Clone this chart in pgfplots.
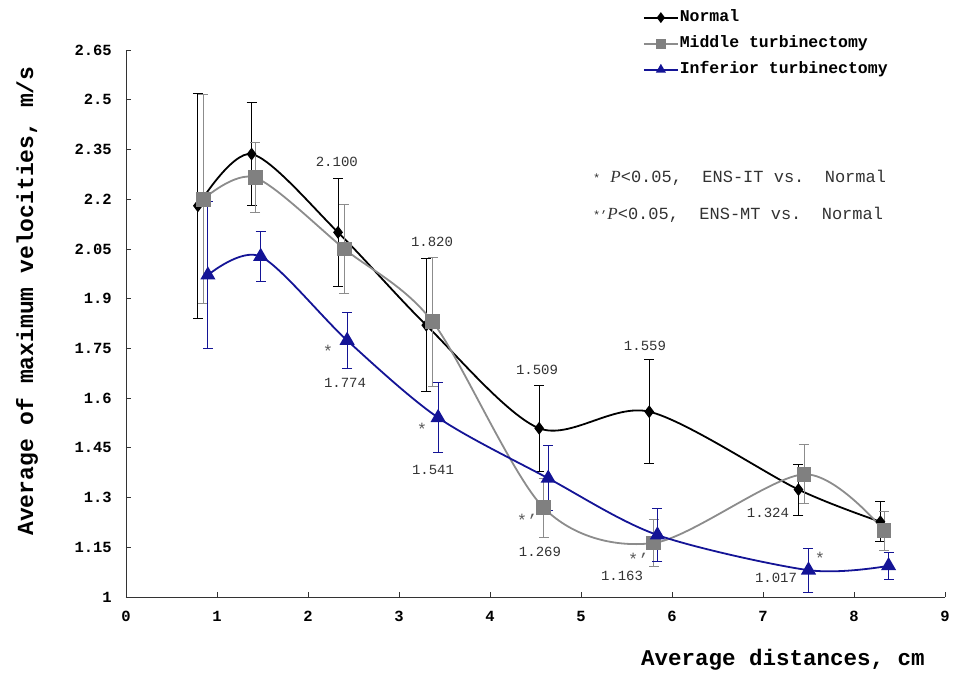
\documentclass[border=0pt]{standalone}
\usepackage{pgfplots}
\pgfplotsset{compat=1.18}
\usepackage{pgfplotstable}
\usepackage{fontspec}
\setmainfont{Liberation Mono}
\newfontfamily\serifit{Liberation Serif}

\definecolor{mtgray}{RGB}{140,140,140}
\definecolor{itblue}{RGB}{20,20,150}
\definecolor{txtgray}{RGB}{50,50,50}

% x  y  err
\pgfplotstableread{
x y e
0.79 2.180 0.340
1.38 2.336 0.155
2.33 2.100 0.163
3.30 1.820 0.200
4.54 1.509 0.130
5.75 1.559 0.157
7.39 1.324 0.077
8.29 1.227 0.060
}\normal
\pgfplotstableread{
x y e
0.85 2.200 0.315
1.42 2.265 0.106
2.40 2.050 0.135
3.37 1.830 0.195
4.59 1.269 0.090
5.80 1.163 0.072
7.45 1.370 0.089
8.33 1.200 0.058
}\middle
\pgfplotstableread{
x y e
0.90 1.971 0.222
1.48 2.027 0.075
2.43 1.774 0.085
3.43 1.541 0.105
4.64 1.358 0.098
5.84 1.187 0.080
7.50 1.081 0.066
8.38 1.094 0.040
}\inferior

\begin{document}
\begin{tikzpicture}
\useasboundingbox (-126pt,-78pt) rectangle (827pt,597pt);
\begin{axis}[
  scale only axis,
  width=819pt, height=547pt,
  at={(0pt,0pt)}, anchor=south west,
  xmin=0, xmax=9, ymin=1, ymax=2.65,
  axis x line*=bottom, axis y line*=left,
  axis line style={line width=0.9pt, black!80},
  xtick={0,1,...,9},
  ytick={1,1.15,1.3,1.45,1.6,1.75,1.9,2.05,2.2,2.35,2.5,2.65},
  tick align=inside, major tick length=5pt,
  tick style={line width=0.8pt, black!80},
  /pgf/number format/assume math mode=true,
  ticklabel style={font=\bfseries\fontsize{15.5}{16}\selectfont},
  yticklabel style={inner sep=0pt, xshift=-14pt},
  xticklabel style={inner sep=0pt, yshift=-14pt},
  legend style={
    at={(rel axis cs:0.631,1.076)}, anchor=north west,
    draw=none, fill=none, inner sep=0pt, row sep=8pt,
    font=\bfseries\fontsize{16.5}{17}\selectfont,
    nodes={inner sep=1pt, text height=12pt, text depth=4pt},
  },
  legend cell align=left,
  legend image code/.code={
    \draw[mark repeat=2, mark phase=2, #1, mark size=4pt]
      plot coordinates {(0pt,0pt) (17pt,0pt) (34pt,0pt)};
  },
]

\addplot[black, line width=1.8pt, smooth, tension=0.5,
  mark=diamond*, mark size=5pt, mark options={solid, fill=black},
  error bars/.cd, y dir=both, y explicit,
  error bar style={line width=0.8pt, black},
  error mark options={rotate=90, mark size=5pt, line width=0.8pt, black}]
  table[x=x, y=y, y error=e] {\normal};
\addlegendentry{Normal}

\addplot[mtgray, line width=1.8pt, smooth, tension=0.5,
  mark=square*, mark size=6.5pt, mark options={solid, fill=gray, draw=gray},
  error bars/.cd, y dir=both, y explicit,
  error bar style={line width=0.8pt, mtgray},
  error mark options={rotate=90, mark size=5pt, line width=0.8pt, mtgray}]
  table[x=x, y=y, y error=e] {\middle};
\addlegendentry{Middle turbinectomy}

\addplot[itblue, line width=1.8pt, smooth, tension=0.5,
  mark=triangle*, mark size=7pt, mark options={solid, fill=itblue},
  error bars/.cd, y dir=both, y explicit,
  error bar style={line width=0.8pt, itblue},
  error mark options={rotate=90, mark size=5pt, line width=0.8pt, itblue}]
  table[x=x, y=y, y error=e] {\inferior};
\addlegendentry{Inferior turbinectomy}

% value labels
\begin{scope}[every node/.style={font=\fontsize{14}{14}\selectfont, text=txtgray, inner sep=0pt}]
\node at (axis cs:2.317,2.312) {2.100};
\node at (axis cs:3.363,2.071) {1.820};
\node at (axis cs:2.407,1.646) {1.774};
\node at (axis cs:3.374,1.383) {1.541};
\node at (axis cs:4.517,1.685) {1.509};
\node at (axis cs:5.703,1.757) {1.559};
\node at (axis cs:4.549,1.136) {1.269};
\node at (axis cs:5.451,1.063) {1.163};
\node at (axis cs:7.055,1.253) {1.324};
\node at (axis cs:7.143,1.057) {1.017};
\end{scope}
\begin{scope}[every node/.style={font=\fontsize{17}{17}\selectfont, text=txtgray!80, inner sep=0pt}]
\node at (axis cs:2.22,1.740) {*};
\node at (axis cs:3.253,1.505) {*};
\node at (axis cs:4.407,1.230) {*'};
\node at (axis cs:5.63,1.113) {*'};
\node at (axis cs:7.626,1.116) {*};
\end{scope}

% significance notes
\begin{scope}[every node/.style={font=\fontsize{17}{17}\selectfont, text=txtgray, anchor=west, inner sep=0pt}]
\node at (axis cs:5.13,2.264) {{\fontsize{12}{12}\selectfont *}~{\serifit\itshape P}<0.05,~~ENS-IT~vs.~~Normal};
\node at (axis cs:5.13,2.152) {{\fontsize{12}{12}\selectfont *'}{\serifit\itshape P}<0.05,~~ENS-MT~vs.~~Normal};
\end{scope}
\end{axis}

\node[rotate=90, font=\bfseries\fontsize{23}{23}\selectfont] at (-99pt,296pt)
  {Average of maximum velocities, m/s};
\node[font=\bfseries\fontsize{22.5}{23}\selectfont] at (657pt,-63pt)
  {Average distances, cm};
\end{tikzpicture}
\end{document}
